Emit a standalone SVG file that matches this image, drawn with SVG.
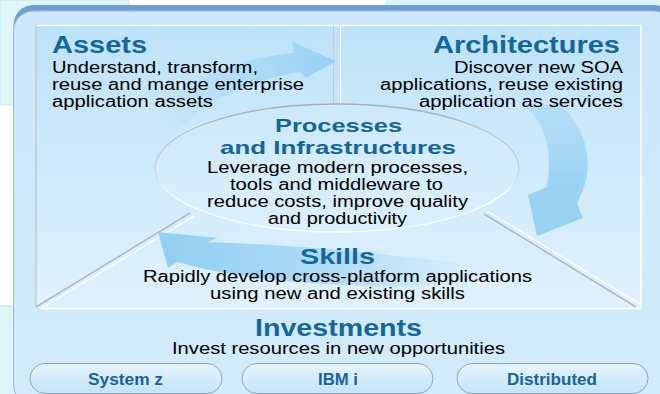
<svg xmlns="http://www.w3.org/2000/svg" width="660" height="394" viewBox="0 0 660 394">
<defs>
<style>
.title{font-family:"Liberation Sans",Arial,sans-serif;font-weight:bold;fill:#12679c}
.body{font-family:"Liberation Sans",Arial,sans-serif;font-size:16px;fill:#000}
.pill{fill:url(#pillGrad);stroke:#8fa3b3;stroke-width:1}
.ptxt{font-family:"Liberation Sans",Arial,sans-serif;font-weight:bold;font-size:16px;fill:#17659a}
</style>
<linearGradient id="innerGrad" x1="0" y1="0" x2="0" y2="1">
<stop offset="0" stop-color="#bde2f8"/>
<stop offset="0.5" stop-color="#cfeafb"/>
<stop offset="1" stop-color="#e0f1fc"/>
</linearGradient>
<linearGradient id="panelGrad" x1="0" y1="0" x2="0" y2="1">
<stop offset="0" stop-color="#cbe7f9"/>
<stop offset="1" stop-color="#d3ebfa"/>
</linearGradient>
<linearGradient id="pillGrad" x1="0" y1="0" x2="0" y2="1">
<stop offset="0" stop-color="#e6f5fe"/>
<stop offset="1" stop-color="#c3e3f8"/>
</linearGradient>
<linearGradient id="ellStroke" x1="0" y1="0" x2="0" y2="1">
<stop offset="0" stop-color="#a9aeb3"/>
<stop offset="0.55" stop-color="#c8d6e0"/>
<stop offset="0.7" stop-color="#ffffff"/>
<stop offset="1" stop-color="#ffffff"/>
</linearGradient>
<linearGradient id="topArrow" gradientUnits="userSpaceOnUse" x1="150" y1="0" x2="336" y2="0">
<stop offset="0" stop-color="#8ecdf1" stop-opacity="0"/>
<stop offset="0.5" stop-color="#8ecdf1" stop-opacity="0.35"/>
<stop offset="1" stop-color="#8ecdf1" stop-opacity="0.85"/>
</linearGradient>
<linearGradient id="rightArrow" gradientUnits="userSpaceOnUse" x1="0" y1="100" x2="0" y2="236">
<stop offset="0" stop-color="#8ecdf1" stop-opacity="0.3"/>
<stop offset="0.6" stop-color="#8ecdf1" stop-opacity="0.8"/>
<stop offset="1" stop-color="#8ecdf1" stop-opacity="0.9"/>
</linearGradient>
<linearGradient id="botArrow" gradientUnits="userSpaceOnUse" x1="158" y1="0" x2="480" y2="0">
<stop offset="0" stop-color="#8ecdf1" stop-opacity="0.95"/>
<stop offset="0.5" stop-color="#8ecdf1" stop-opacity="0.6"/>
<stop offset="1" stop-color="#8ecdf1" stop-opacity="0"/>
</linearGradient>
</defs>

<!-- background -->
<rect x="0" y="0" width="660" height="394" fill="#ffffff"/>
<rect x="0" y="0" width="129" height="105" fill="#def6f7" stroke="#c3e8ea" stroke-width="1"/>
<rect x="385" y="0" width="275" height="12" fill="#def6f7"/>
<rect x="0" y="306" width="20" height="88" fill="#def6f7"/>
<line x1="0" y1="306" x2="20" y2="306" stroke="#b9e6e8"/>

<!-- main panel -->
<rect x="13.5" y="5" width="660" height="400" rx="20" fill="#6d9dd7"/>
<rect x="13.5" y="11" width="660" height="394" rx="20" fill="url(#panelGrad)" stroke="#a3b9cb" stroke-width="1"/>

<!-- inner framed region -->
<rect x="36" y="25" width="605" height="283" fill="url(#innerGrad)"/>
<line x1="36" y1="25.5" x2="641" y2="25.5" stroke="#ffffff" stroke-width="1.5"/>
<line x1="36" y1="25" x2="36" y2="307" stroke="#b8bec4" stroke-width="1"/>
<line x1="641" y1="25" x2="641" y2="308" stroke="#ffffff" stroke-width="1.5"/>
<line x1="40" y1="308.5" x2="641" y2="308.5" stroke="#ffffff" stroke-width="1.5"/>
<line x1="333.5" y1="25" x2="333.5" y2="105" stroke="#c4ccd2" stroke-width="1"/>
<line x1="340.5" y1="25" x2="340.5" y2="105" stroke="#ffffff" stroke-width="1.2"/>
<line x1="36" y1="307" x2="190" y2="213" stroke="#b4b8bc" stroke-width="1.5"/>
<line x1="42" y1="308" x2="194" y2="216" stroke="#ffffff" stroke-width="1.2"/>
<line x1="484" y1="214" x2="636" y2="307" stroke="#b4b8bc" stroke-width="1.5"/>
<line x1="487" y1="211" x2="640" y2="304" stroke="#ffffff" stroke-width="1.2"/>
<ellipse cx="337" cy="168" rx="182" ry="64" fill="#ffffff" fill-opacity="0.12" stroke="url(#ellStroke)" stroke-width="1.3"/>

<!-- connectors -->
<g id="connectors">
<path d="M150,112 C190,76 240,58 294,53 L292,42 L336,61 L306,78 L300,72 C250,80 205,100 176,132 Z" fill="url(#topArrow)"/>
<path d="M527,108 C546,125 553,152 547,187 L528,195 L537,236 L583,218 L577,203 C596,170 590,130 558,103 Z" fill="url(#rightArrow)"/>
<path d="M480,266 C400,255 300,245 207,242 L218,238 L158,232 L168,268 L177,262 C250,283 380,292 480,283 Z" fill="url(#botArrow)"/>
</g>

<g id="assets">
<text class="title" x="52" y="53" font-size="24" textLength="95" lengthAdjust="spacingAndGlyphs">Assets</text>
<text class="body" x="52" y="73" textLength="206" lengthAdjust="spacingAndGlyphs">Understand, transform,</text>
<text class="body" x="52" y="90" textLength="252" lengthAdjust="spacingAndGlyphs">reuse and mange enterprise</text>
<text class="body" x="52" y="107" textLength="161" lengthAdjust="spacingAndGlyphs">application assets</text>
</g>

<g id="architectures">
<text class="title" x="433" y="53" font-size="24" textLength="187" lengthAdjust="spacingAndGlyphs">Architectures</text>
<text class="body" x="454" y="73" textLength="169" lengthAdjust="spacingAndGlyphs">Discover new SOA</text>
<text class="body" x="380" y="90" textLength="243" lengthAdjust="spacingAndGlyphs">applications, reuse existing</text>
<text class="body" x="419" y="107" textLength="204" lengthAdjust="spacingAndGlyphs">application as services</text>
</g>

<g id="processes">
<text class="title" x="275" y="132" font-size="19" textLength="127" lengthAdjust="spacingAndGlyphs">Processes</text>
<text class="title" x="220" y="154" font-size="19" textLength="236" lengthAdjust="spacingAndGlyphs">and Infrastructures</text>
<text class="body" x="207" y="173" textLength="261" lengthAdjust="spacingAndGlyphs">Leverage modern processes,</text>
<text class="body" x="230" y="190" textLength="213" lengthAdjust="spacingAndGlyphs">tools and middleware to</text>
<text class="body" x="207" y="207" textLength="261" lengthAdjust="spacingAndGlyphs">reduce costs, improve quality</text>
<text class="body" x="268" y="224" textLength="139" lengthAdjust="spacingAndGlyphs">and productivity</text>
</g>

<g id="skills">
<text class="title" x="300" y="264" font-size="22" textLength="75" lengthAdjust="spacingAndGlyphs">Skills</text>
<text class="body" x="143" y="282" textLength="389" lengthAdjust="spacingAndGlyphs">Rapidly develop cross-platform applications</text>
<text class="body" x="210" y="299" textLength="255" lengthAdjust="spacingAndGlyphs">using new and existing skills</text>
</g>

<g id="investments">
<text class="title" x="255" y="336" font-size="24" textLength="167" lengthAdjust="spacingAndGlyphs">Investments</text>
<text class="body" x="172" y="354" textLength="333" lengthAdjust="spacingAndGlyphs">Invest resources in new opportunities</text>
</g>

<g id="system-z">
<rect class="pill" x="30" y="363.5" width="192" height="30" rx="15"/>
<text class="ptxt" x="88" y="385" textLength="75" lengthAdjust="spacingAndGlyphs">System z</text>
</g>
<g id="ibm-i">
<rect class="pill" x="242" y="363.5" width="191" height="30" rx="15"/>
<text class="ptxt" x="318" y="385" textLength="40" lengthAdjust="spacingAndGlyphs">IBM i</text>
</g>
<g id="distributed">
<rect class="pill" x="457" y="363.5" width="191" height="30" rx="15"/>
<text class="ptxt" x="507" y="385" textLength="90" lengthAdjust="spacingAndGlyphs">Distributed</text>
</g>
</svg>
